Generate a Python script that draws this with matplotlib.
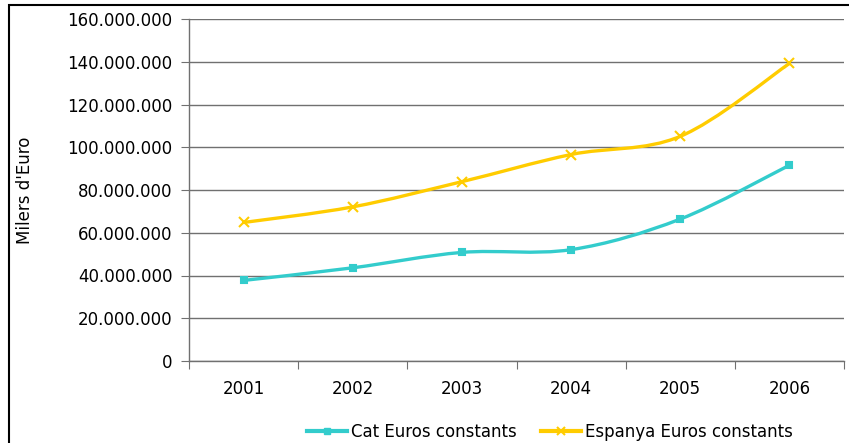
import matplotlib.pyplot as plt
import numpy as np
from matplotlib.path import Path
from matplotlib.patches import PathPatch, Rectangle
from matplotlib.lines import Line2D
from matplotlib.ticker import FuncFormatter, FixedLocator

years = ['2001', '2002', '2003', '2004', '2005', '2006']
cat_vals = [37.7e6, 43.6e6, 50.8e6, 52.1e6, 66.4e6, 91.6e6]
esp_vals = [64.8e6, 72.1e6, 83.9e6, 96.6e6, 105.1e6, 139.2e6]
series_names = ['Cat Euros constants', 'Espanya Euros constants']
y_label = "Milers d'Euro"

CAT_COLOR = '#33CCCC'
ESP_COLOR = '#FFCC00'
FS = 12


def smooth_path(xs, ys):
    # bezier smoothing through the points (like a spreadsheet "smoothed line")
    pts = np.column_stack([xs, ys]).astype(float)
    n = len(pts)
    verts = [pts[0]]
    codes = [Path.MOVETO]
    for i in range(n - 1):
        p_prev = pts[i - 1] if i > 0 else pts[i]
        p_next2 = pts[i + 2] if i + 2 < n else pts[i + 1]
        c1 = pts[i] + (pts[i + 1] - p_prev) / 6.0
        c2 = pts[i + 1] - (p_next2 - pts[i]) / 6.0
        verts += [c1, c2, pts[i + 1]]
        codes += [Path.CURVE4] * 3
    return Path(verts, codes)


fig = plt.figure(figsize=(8.49, 4.43), dpi=100)
ax = fig.add_axes([189 / 849, 1 - 361 / 443, 655 / 849, 342 / 443])

x = np.arange(len(years))
for vals, color, marker, ms in [(cat_vals, CAT_COLOR, 's', 5),
                                (esp_vals, ESP_COLOR, 'x', 7)]:
    patch = PathPatch(smooth_path(x, vals), facecolor='none', edgecolor=color,
                      lw=2.4, capstyle='round', joinstyle='round', zorder=3)
    ax.add_patch(patch)
    ax.plot(x, vals, linestyle='none', marker=marker, ms=ms, color=color,
            mew=1.5, zorder=4)

ax.set_xlim(-0.5, len(years) - 0.5)
ax.set_ylim(0, 160e6)
ax.yaxis.set_major_locator(FixedLocator(np.arange(0, 160e6 + 1, 20e6)))
ax.yaxis.set_major_formatter(FuncFormatter(
    lambda v, p: '{:,.0f}'.format(v).replace(',', '.')))
ax.grid(axis='y', color='#707070', lw=1.0, zorder=1)
ax.set_axisbelow(True)

ax.set_xticks(np.arange(-0.5, len(years), 1.0))
ax.set_xticklabels([])
ax.set_xticks(x, minor=True)
ax.set_xticklabels(years, minor=True)
ax.tick_params(axis='x', which='minor', length=0, pad=14, labelsize=FS)
ax.tick_params(axis='x', which='major', length=6, direction='out',
               color='#707070')
ax.tick_params(axis='y', length=6, direction='out', color='#707070',
               labelsize=FS, pad=6)

for side in ['top', 'right']:
    ax.spines[side].set_visible(False)
for side in ['left', 'bottom']:
    ax.spines[side].set_color('#707070')
    ax.spines[side].set_linewidth(1.0)

fig.text(25 / 849, 1 - 190 / 443, y_label, rotation=90, ha='center',
         va='center', fontsize=FS)

handles = [Line2D([], [], color=CAT_COLOR, lw=3, marker='s', ms=4),
           Line2D([], [], color=ESP_COLOR, lw=3, marker='x', ms=6, mew=1.5)]
fig.legend(handles, series_names, loc='center', ncol=2, frameon=False,
           bbox_to_anchor=(550 / 849, 1 - 432 / 443), fontsize=FS,
           handlelength=2.4, handletextpad=0.2, columnspacing=1.5)

# outer chart frame, cut off at the right and bottom
fig.patches.append(Rectangle((9 / 849, -0.2), 1.2, 1.2 - 5 / 443,
                             transform=fig.transFigure, fill=False,
                             edgecolor='black', lw=1.5))

fig.savefig('out.png', dpi=100)
